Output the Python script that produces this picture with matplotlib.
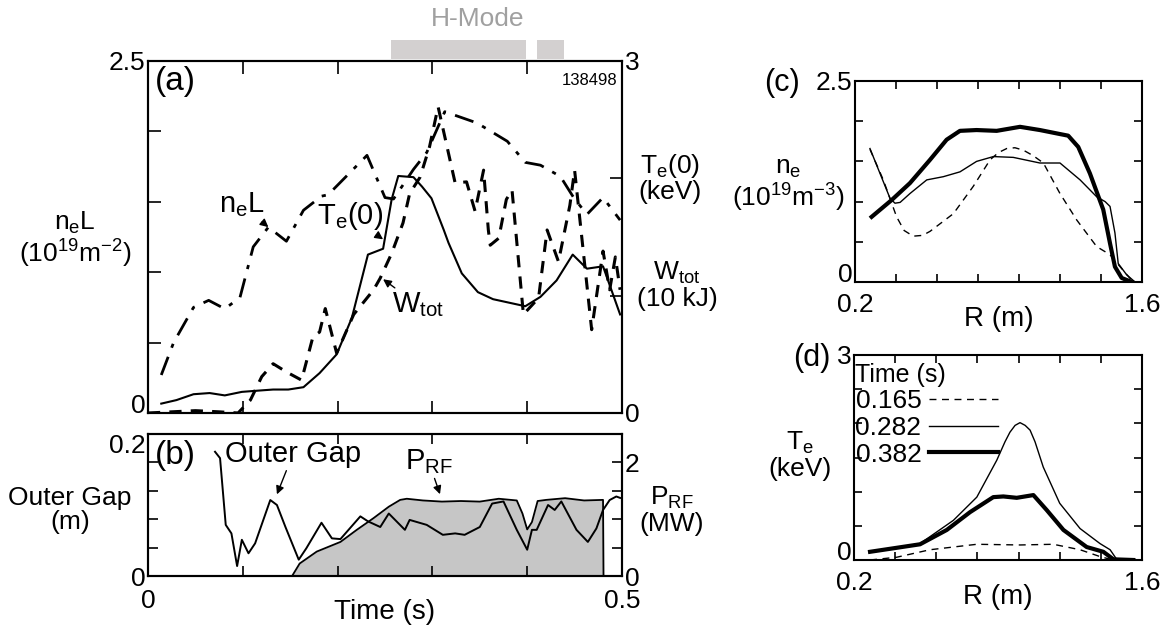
import numpy as np
import matplotlib
matplotlib.use('Agg')
import matplotlib.pyplot as plt
from matplotlib.patches import Rectangle
import matplotlib.transforms as mtransforms

plt.rcParams['font.family'] = ['Liberation Sans', 'DejaVu Sans']
plt.rcParams['mathtext.fontset'] = 'custom'
plt.rcParams['mathtext.rm'] = 'Liberation Sans'
plt.rcParams['mathtext.it'] = 'Liberation Sans:italic'
plt.rcParams['axes.linewidth'] = 1.5

# ---- panel (a): time traces ----
t_nel = [0.014, 0.027, 0.048, 0.064, 0.081, 0.097, 0.111, 0.127, 0.146, 0.164, 0.183, 0.190,
         0.231, 0.250, 0.259, 0.280, 0.294, 0.313, 0.347, 0.379, 0.398, 0.414, 0.435, 0.449,
         0.463, 0.480, 0.498]
nel = [0.27, 0.50, 0.75, 0.80, 0.74, 0.82, 1.18, 1.32, 1.22, 1.44, 1.54, 1.55,
       1.83, 1.53, 1.52, 1.73, 1.85, 2.14, 2.06, 1.93, 1.78, 1.76, 1.68, 1.53,
       1.41, 1.53, 1.37]

t_te = [0.014, 0.030, 0.048, 0.065, 0.081, 0.099, 0.115, 0.132, 0.148, 0.164, 0.181, 0.199,
        0.215, 0.232, 0.248, 0.257, 0.264, 0.280, 0.289, 0.299, 0.312, 0.317, 0.331, 0.348,
        0.364, 0.398, 0.414, 0.431, 0.448, 0.463, 0.480, 0.498]
te0 = [0.08, 0.11, 0.16, 0.17, 0.15, 0.18, 0.19, 0.20, 0.20, 0.22, 0.34, 0.50,
       0.81, 1.35, 1.40, 1.82, 2.02, 2.01, 1.93, 1.83, 1.56, 1.45, 1.19, 1.03,
       0.97, 0.91, 0.99, 1.13, 1.35, 1.23, 1.25, 0.84]

t_w = [0.0, 0.05, 0.075, 0.095, 0.108, 0.120, 0.132, 0.146, 0.162, 0.174, 0.181, 0.187,
       0.199, 0.217, 0.238, 0.245, 0.257, 0.269, 0.276, 0.287, 0.297, 0.306, 0.324, 0.336,
       0.345, 0.354, 0.359, 0.361, 0.370, 0.378, 0.384, 0.396, 0.412, 0.421, 0.433, 0.445,
       0.450, 0.468, 0.480, 0.487, 0.493, 0.498]
wtot = [0.0, 0.02, 0.01, 0.0, 0.11, 0.31, 0.42, 0.35, 0.28, 0.65, 0.69, 0.89,
        0.51, 0.84, 1.05, 1.15, 1.36, 1.62, 1.87, 2.01, 2.27, 2.61, 1.96, 1.97,
        1.72, 2.07, 1.56, 1.43, 1.49, 1.82, 1.90, 0.84, 0.98, 1.56, 1.29, 1.77,
        2.07, 0.71, 1.38, 1.05, 1.33, 1.05]

hmode_start = [0.256, 0.410]
hmode_end = [0.399, 0.439]

# ---- panel (b) ----
t_gap = [0.0707, 0.076, 0.082, 0.088, 0.094, 0.099, 0.106, 0.113, 0.129, 0.136, 0.145, 0.159,
         0.167, 0.183, 0.194, 0.203, 0.224, 0.232, 0.245, 0.254, 0.271, 0.276, 0.294, 0.311,
         0.324, 0.334, 0.350, 0.363, 0.375, 0.389, 0.400, 0.405, 0.410, 0.422, 0.429, 0.436,
         0.452, 0.464, 0.473, 0.480, 0.487, 0.494, 0.498]
gap = [0.175, 0.166, 0.072, 0.060, 0.014, 0.051, 0.032, 0.046, 0.107, 0.100, 0.069, 0.023,
       0.039, 0.075, 0.053, 0.052, 0.084, 0.077, 0.069, 0.088, 0.065, 0.079, 0.072, 0.058,
       0.060, 0.058, 0.069, 0.102, 0.105, 0.065, 0.037, 0.065, 0.065, 0.100, 0.093, 0.105,
       0.065, 0.048, 0.067, 0.093, 0.107, 0.112, 0.110]

t_prf = [0.152, 0.160, 0.178, 0.203, 0.220, 0.238, 0.254, 0.266, 0.273, 0.290, 0.310, 0.330,
         0.350, 0.370, 0.389, 0.395, 0.400, 0.405, 0.411, 0.420, 0.440, 0.460, 0.480, 0.4805]
prf = [0.0, 0.22, 0.43, 0.60, 0.81, 1.02, 1.22, 1.34, 1.36, 1.33, 1.31, 1.32,
       1.31, 1.36, 1.33, 1.10, 0.82, 0.95, 1.32, 1.34, 1.37, 1.33, 1.34, 0.0]

# ---- panel (c): density profiles ----
R_c_165 = [0.273, 0.338, 0.403, 0.440, 0.484, 0.530, 0.566, 0.680, 0.777, 0.859, 0.900, 0.940,
           0.980, 1.021, 1.070, 1.119, 1.200, 1.282, 1.379, 1.444, 1.493, 1.550]
ne_165 = [1.65, 1.27, 0.81, 0.64, 0.57, 0.58, 0.63, 0.85, 1.19, 1.52, 1.61, 1.66,
          1.67, 1.64, 1.57, 1.48, 1.10, 0.77, 0.44, 0.34, 0.19, 0.02]
R_c_282 = [0.273, 0.322, 0.371, 0.395, 0.420, 0.468, 0.550, 0.631, 0.712, 0.793, 0.875, 0.972,
           1.102, 1.200, 1.298, 1.379, 1.420, 1.444, 1.468, 1.484, 1.525, 1.566]
ne_282 = [1.66, 1.35, 1.04, 0.98, 0.99, 1.10, 1.27, 1.31, 1.37, 1.50, 1.56, 1.55,
          1.48, 1.48, 1.27, 1.06, 1.00, 0.94, 0.61, 0.23, 0.09, 0.00]
R_c_382 = [0.281, 0.379, 0.468, 0.566, 0.647, 0.712, 0.793, 0.891, 1.005, 1.102, 1.200, 1.240,
           1.289, 1.346, 1.411, 1.444, 1.468, 1.501, 1.550]
ne_382 = [0.81, 1.02, 1.23, 1.52, 1.77, 1.88, 1.89, 1.88, 1.93, 1.89, 1.84, 1.82,
          1.68, 1.35, 0.90, 0.48, 0.19, 0.05, 0.00]

# ---- panel (d): temperature profiles ----
R_d_165 = [0.278, 0.407, 0.569, 0.797, 1.007, 1.169, 1.299, 1.396, 1.460, 1.560]
te_165 = [0.0, 0.04, 0.15, 0.23, 0.22, 0.23, 0.15, 0.05, 0.0, 0.0]
R_d_282 = [0.278, 0.521, 0.683, 0.797, 0.894, 0.934, 0.958, 0.983, 1.007, 1.032, 1.056, 1.080,
           1.120, 1.200, 1.299, 1.396, 1.445, 1.477, 1.558]
te_282 = [0.12, 0.24, 0.58, 0.92, 1.46, 1.73, 1.87, 1.97, 2.01, 1.97, 1.90, 1.73,
          1.36, 0.83, 0.46, 0.24, 0.15, 0.01, 0.0]
R_d_382 = [0.278, 0.521, 0.651, 0.764, 0.877, 0.926, 0.991, 1.072, 1.137, 1.218, 1.331, 1.412,
           1.461, 1.558]
te_382 = [0.12, 0.23, 0.44, 0.70, 0.92, 0.93, 0.91, 0.95, 0.73, 0.44, 0.19, 0.12,
          0.01, 0.0]
profile_times = ['0.165', '0.282', '0.382']

W, H = 1169, 628
FS = 19      # tick labels
LFS = 19     # axis labels


def box(x0, y0, x1, y1):
    """pixel box -> figure fraction rect"""
    return [x0 / W, 1 - y1 / H, (x1 - x0) / W, (y1 - y0) / H]


def pos(x, y):
    return x / W, 1 - y / H


def end_labels(ticks, first, last):
    return [first] + [''] * (len(ticks) - 2) + [last]


def style_ticks(ax, length, xpad=6):
    ax.tick_params(direction='in', length=length, width=1.2, labelsize=FS, pad=2)
    ax.tick_params(axis='x', pad=xpad)


def nudge_ylabel(ax, index, va):
    # shift the corner tick labels a little so they do not collide
    ax.get_yticklabels()[index].set_verticalalignment(va)


fig = plt.figure(figsize=(W / 100, H / 100), dpi=100)

# ---------------- (a) ----------------
ax_a = fig.add_axes(box(148, 61, 622, 413))
ax_a.plot(t_nel, nel, color='k', lw=2, linestyle=(0, (7, 3.5, 1.5, 3.5)))
ax_a.set_xlim(0, 0.5)
ax_a.set_ylim(0, 2.5)
yt = [0, 0.5, 1, 1.5, 2, 2.5]
ax_a.set_yticks(yt)
ax_a.set_yticklabels(end_labels(yt, '0', '2.5'))
ax_a.set_xticks([0, 0.1, 0.2, 0.3, 0.4, 0.5])
ax_a.set_xticklabels([])
style_ticks(ax_a, 9)
ax_a.tick_params(top=True)
nudge_ylabel(ax_a, 0, 'baseline')

ax_a2 = ax_a.twinx()
ax_a2.plot(t_te, te0, color='k', lw=1.5)
ax_a2.plot(t_w, wtot, color='k', lw=2.2, linestyle=(0, (4, 3)))
ax_a2.set_ylim(0, 3)
ax_a2.set_yticks([0, 1, 2, 3])
ax_a2.set_yticklabels(['0', '', '', '3'])
style_ticks(ax_a2, 9)

ax_a.text(0.015, 0.985, '(a)', transform=ax_a.transAxes, fontsize=24, va='top', ha='left')
ax_a.text(0.99, 0.965, '138498', transform=ax_a.transAxes, fontsize=12, va='top', ha='right')

# H-mode bars above the axes
trans = mtransforms.blended_transform_factory(ax_a.transData, ax_a.transAxes)
for s, e in zip(hmode_start, hmode_end):
    ax_a.add_patch(Rectangle((s, 1.006), e - s, 0.054, transform=trans,
                             facecolor='#d3d0d0', edgecolor='none', clip_on=False))
fig.text(*pos(478, 19), 'H-Mode', color='#a0a0a0', fontsize=19, ha='center', va='center')

arrow = dict(arrowstyle='-|>', color='k', lw=1, mutation_scale=12, shrinkA=0, shrinkB=0)
ax_a.annotate('n$_\\mathregular{e}$L', xy=(0.127, 1.32), xytext=(0.099, 1.48),
              fontsize=21, ha='center', va='center', arrowprops=arrow)
ax_a2.annotate('T$_\\mathregular{e}$(0)', xy=(0.248, 1.48), xytext=(0.213, 1.68),
               fontsize=21, ha='center', va='center', arrowprops=arrow)
ax_a2.annotate('W$_\\mathregular{tot}$', xy=(0.248, 1.14), xytext=(0.285, 0.92),
               fontsize=21, ha='center', va='center', arrowprops=arrow)

fig.text(*pos(75, 240), 'n$_\\mathregular{e}$L\n(10$^\\mathregular{19}$m$^\\mathregular{-2}$)',
         fontsize=LFS, ha='center', va='center', linespacing=1.05)
fig.text(*pos(670, 178), 'T$_\\mathregular{e}$(0)\n(keV)', fontsize=LFS,
         ha='center', va='center', linespacing=1.05)
fig.text(*pos(677, 285), 'W$_\\mathregular{tot}$\n(10 kJ)', fontsize=LFS,
         ha='center', va='center', linespacing=1.05)

# ---------------- (b) ----------------
ax_b = fig.add_axes(box(148, 434, 622, 576))
ax_b.plot(t_gap, gap, color='k', lw=1.4)
ax_b.set_xlim(0, 0.5)
ax_b.set_ylim(0, 0.2)
yt = [0, 0.04, 0.08, 0.12, 0.16, 0.2]
ax_b.set_yticks(yt)
ax_b.set_yticklabels(end_labels(yt, '0', '0.2'))
xt = [0, 0.1, 0.2, 0.3, 0.4, 0.5]
ax_b.set_xticks(xt)
ax_b.set_xticklabels(end_labels(xt, '0', '0.5'))
style_ticks(ax_b, 7, xpad=9)
ax_b.tick_params(top=True)
ax_b.set_xlabel('Time (s)', fontsize=LFS + 1, labelpad=-10)
nudge_ylabel(ax_b, -1, 'top')

ax_b2 = ax_b.twinx()
ax_b2.fill_between(t_prf, prf, 0, color='#c6c6c6', lw=0)
ax_b2.plot(t_prf, prf, color='k', lw=1.3)
ax_b2.set_ylim(0, 2.5)
yt = [0, 0.5, 1, 1.5, 2, 2.5]
ax_b2.set_yticks(yt)
ax_b2.set_yticklabels(['0', '', '', '', '2', ''])
style_ticks(ax_b2, 7)
ax_b.set_zorder(ax_b2.get_zorder() + 1)
ax_b.patch.set_visible(False)

ax_b.text(0.015, 0.96, '(b)', transform=ax_b.transAxes, fontsize=24, va='top', ha='left')
ax_b.annotate('Outer Gap', xy=(0.136, 0.115), xytext=(0.153, 0.172),
              fontsize=21, ha='center', va='center', arrowprops=arrow)
ax_b2.annotate('P$_\\mathregular{RF}$', xy=(0.308, 1.44), xytext=(0.296, 2.02),
               fontsize=21, ha='center', va='center', arrowprops=arrow)

fig.text(*pos(70, 510), 'Outer Gap\n(m)', fontsize=LFS, ha='center', va='center',
         linespacing=1.05)
fig.text(*pos(672, 510), 'P$_\\mathregular{RF}$\n(MW)', fontsize=LFS, ha='center',
         va='center', linespacing=1.05)

# ---------------- (c) ----------------
ax_c = fig.add_axes(box(855, 81, 1142, 282))
ax_c.plot(R_c_165, ne_165, color='k', lw=1, linestyle=(0, (5, 4)))
ax_c.plot(R_c_282, ne_282, color='k', lw=1)
ax_c.plot(R_c_382, ne_382, color='k', lw=3)
ax_c.set_xlim(0.2, 1.6)
ax_c.set_ylim(0, 2.5)
xt = [0.2, 0.4, 0.6, 0.8, 1.0, 1.2, 1.4, 1.6]
ax_c.set_xticks(xt)
ax_c.set_xticklabels(end_labels(xt, '0.2', '1.6'))
yt = [0, 0.5, 1, 1.5, 2, 2.5]
ax_c.set_yticks(yt)
ax_c.set_yticklabels(end_labels(yt, '0', '2.5'))
style_ticks(ax_c, 6, xpad=8)
ax_c.tick_params(top=True, right=True)
ax_c.set_xlabel('R (m)', fontsize=LFS + 1, labelpad=-8)
nudge_ylabel(ax_c, 0, 'baseline')
fig.text(*pos(782, 83), '(c)', fontsize=22, ha='center', va='center')
fig.text(*pos(788, 185), 'n$_\\mathregular{e}$\n(10$^\\mathregular{19}$m$^\\mathregular{-3}$)',
         fontsize=LFS, ha='center', va='center', linespacing=1.05)

# ---------------- (d) ----------------
ax_d = fig.add_axes(box(854, 355, 1142, 560))
ax_d.plot(R_d_165, te_165, color='k', lw=1, linestyle=(0, (5, 4)), label=profile_times[0])
ax_d.plot(R_d_282, te_282, color='k', lw=1, label=profile_times[1])
ax_d.plot(R_d_382, te_382, color='k', lw=3, label=profile_times[2])
ax_d.set_xlim(0.2, 1.6)
ax_d.set_ylim(0, 3)
ax_d.set_xticks(xt)
ax_d.set_xticklabels(end_labels(xt, '0.2', '1.6'))
yt = [0, 0.5, 1, 1.5, 2, 2.5, 3]
ax_d.set_yticks(yt)
ax_d.set_yticklabels(end_labels(yt, '0', '3'))
style_ticks(ax_d, 6, xpad=8)
ax_d.tick_params(top=True, right=True)
ax_d.set_xlabel('R (m)', fontsize=LFS + 1, labelpad=-8)
nudge_ylabel(ax_d, 0, 'baseline')
leg = ax_d.legend(loc='upper left', bbox_to_anchor=(-0.05, 1.04), frameon=False,
                  markerfirst=False, fontsize=FS, title='Time (s)',
                  title_fontsize=FS - 1, handlelength=2.6, labelspacing=0.1,
                  handletextpad=0.3, borderaxespad=0.2)
leg._legend_box.align = 'left'
fig.text(*pos(812, 358), '(d)', fontsize=22, ha='center', va='center')
fig.text(*pos(800, 455), 'T$_\\mathregular{e}$\n(keV)', fontsize=LFS, ha='center',
         va='center', linespacing=1.05)

fig.savefig('out.png', dpi=100)
